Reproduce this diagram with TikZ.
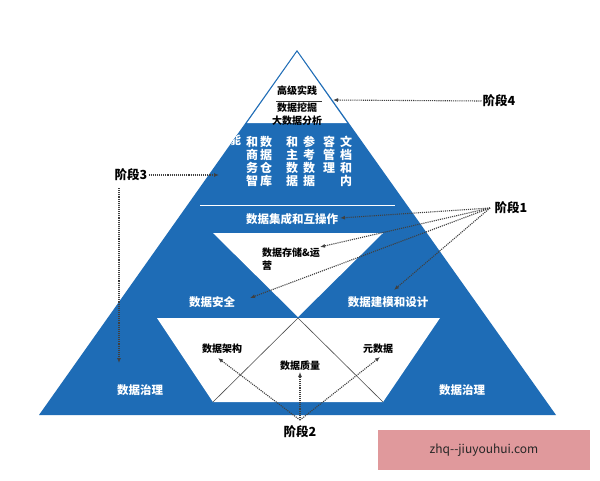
\documentclass[tikz,border=0pt]{standalone}
\usepackage{fontspec}
\setmainfont{Noto Sans CJK SC}[BoldFont={Noto Sans CJK SC Black}]
\usetikzlibrary{arrows.meta}
\definecolor{pblue}{HTML}{1E6CB6}
\definecolor{wm}{HTML}{E0999C}
\begin{document}
\begin{tikzpicture}[x=1pt,y=-1pt,
  wt/.style={text=white,font=\bfseries\fontsize{11.5}{12}\selectfont,inner sep=0},
  bt/.style={text=black,font=\bfseries\fontsize{10}{13}\selectfont,inner sep=0},
  vt/.style={text=white,font=\bfseries\fontsize{12}{13}\selectfont,align=center,inner sep=0,anchor=north},
  lab/.style={text=black,font=\bfseries\fontsize{12.5}{14}\selectfont,inner sep=1},
  dar/.style={densely dotted,line width=1.1pt,black!75,-{Latex[length=5pt,width=4pt]}}]
\useasboundingbox (0,0) rectangle (600,480);
\fill[white] (0,0) rectangle (600,480);
% pyramid
\fill[pblue] (297,50) -- (39,415) -- (556,415) -- cycle;
\fill[white] (297,52) -- (247,123) -- (347,123) -- cycle;
\draw[black!80,line width=0.8] (276,101) -- (322,101);
\fill[white] (213,233) -- (383,233) -- (298,317) -- cycle;
\fill[white] (157,318) -- (440,318) -- (383,402) -- (213,402) -- cycle;
\draw[black!70,line width=0.6] (298,318) -- (213,402) (298,318) -- (383,402);
\draw[white,line width=1] (200,205) -- (395,205);
% top texts
\node[bt] (t1) at (297,91) {高级实践};
\node[bt] (t2) at (297,108) {数据挖掘};
\node[bt] (t3) at (297,121) {大数据分析};
% vertical columns
\begin{scope}
\clip (297,50) -- (39,415) -- (556,415) -- cycle;
\node[vt] (c0) at (235,134) {能};
\end{scope}
\node[vt] (c1) at (252,136) {和\\商\\务\\智};
\node[vt] (c2) at (266,136) {数\\据\\仓\\库};
\node[vt] (c3) at (292,136) {和\\主\\数\\据};
\node[vt] (c4) at (309,136) {参\\考\\数\\据};
\node[vt] (c5) at (329,136) {容\\管\\理};
\node[vt] (c6) at (346,136) {文\\档\\和\\内};
% mid texts
\node[wt] (jc) at (292,219) {数据集成和互操作};
\node[bt,align=left,anchor=north west] (cc) at (262,248) {数据存储\&运\\营};
\node[wt] (aq) at (212,302) {数据安全};
\node[wt] (jm) at (388,302) {数据建模和设计};
\node[bt] (jg) at (222,349) {数据架构};
\node[bt] (zl) at (300,366) {数据质量};
\node[bt] (ys) at (378,349) {元数据};
\node[wt] (zl1) at (140,390) {数据治理};
\node[wt] (zl2) at (462,390) {数据治理};
% stage labels
\node[lab] (s4) at (499,101) {阶段4};
\node[lab] (s3) at (131,175) {阶段3};
\node[lab] (s1) at (511,208) {阶段1};
\node[lab] (s2) at (300,432) {阶段2};
\coordinate (a4) at (333,100);
\coordinate (a3) at (219,175);
\coordinate (a3b) at (119,363);
\coordinate (o1) at (490,208);
\coordinate (o2) at (300,420);
\draw[dar] (s4.west) -- (a4);
\draw[dar] (s3.east) -- (a3);
\draw[dar] (119,188) -- (a3b);
\draw[dar] (o1) -- (340,218);
\draw[dar] (o1) -- (320,247);
\draw[dar] (o1) -- (250,298);
\draw[dar] (o1) -- (394,290);
\draw[dar] (o2) -- (300,372);
\draw[dar] (o2) -- (218,358);
\draw[dar] (o2) -- (380,357);
% watermark
\fill[wm] (378,430) rectangle (590,470);
\node[text=black!85,font=\fontsize{12}{14}\selectfont] (wmk) at (484,450) {zhq-{}-jiuyouhui.com};
\end{tikzpicture}
\end{document}
